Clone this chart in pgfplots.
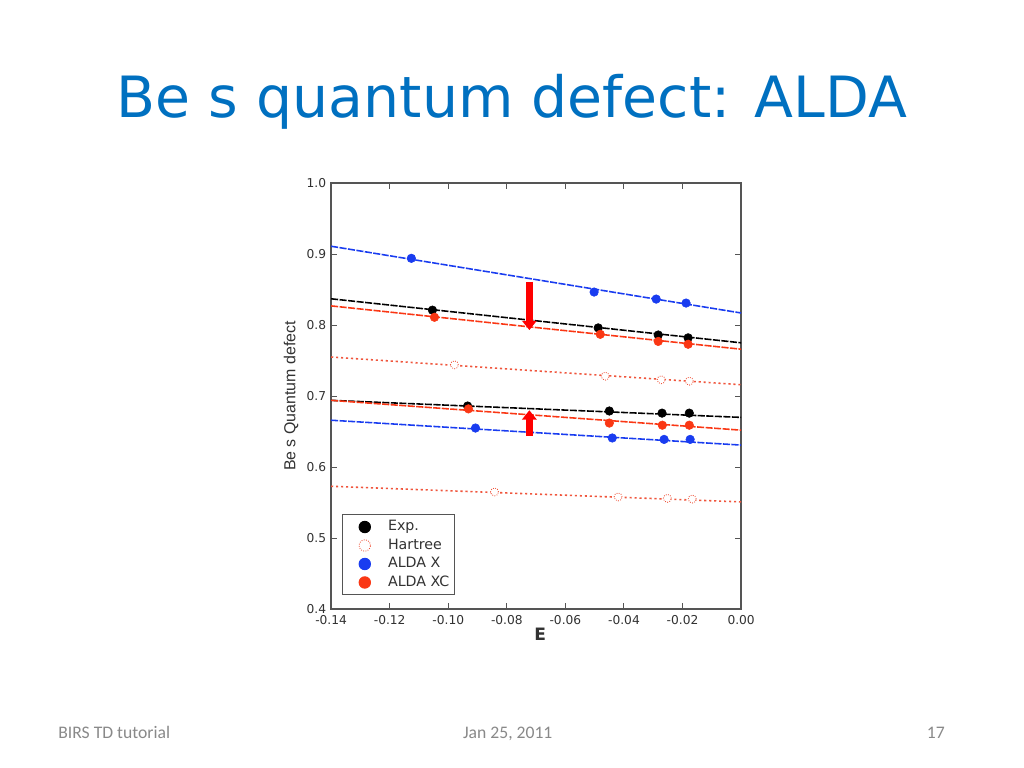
\documentclass[border=0pt]{standalone}
\usepackage{fontspec}
\setmainfont{DejaVu Sans}
\newfontfamily\carlito{Carlito}
\newfontfamily\helv{Liberation Sans}
\usepackage{pgfplots}
\pgfplotsset{compat=1.18}
\usetikzlibrary{arrows.meta}

\definecolor{titleblue}{RGB}{0,112,192}
\definecolor{footgray}{RGB}{137,137,137}
\definecolor{axisgray}{RGB}{85,85,85}
\definecolor{labelgray}{RGB}{50,50,50}
\definecolor{blueX}{RGB}{25,60,240}
\definecolor{redXC}{RGB}{250,55,20}
\definecolor{hartree}{RGB}{240,85,60}

\pgfplotsset{
  fitline/.style={forget plot, no marks, line width=1.1pt, dash pattern=on 5pt off 1pt},
  hfit/.style={forget plot, no marks, line width=1.1pt, hartree, dash pattern=on 1.5pt off 2pt},
}

\begin{document}
\begin{tikzpicture}
\fill[white] (0pt,0pt) rectangle (720pt,540pt);

% slide title and footer
\node[anchor=base, inner sep=0pt, text=titleblue, font=\fontsize{40}{48}\selectfont]
  at (360pt,457.7pt) {Be s quantum defect: ALDA};
\node[anchor=base west, inner sep=0pt, text=footgray, font=\carlito\fontsize{12.4}{14}\selectfont]
  at (40.8pt,21pt) {BIRS TD tutorial};
\node[anchor=base, inner sep=0pt, text=footgray, font=\carlito\fontsize{12.4}{14}\selectfont]
  at (357pt,21pt) {Jan 25, 2011};
\node[anchor=base east, inner sep=0pt, text=footgray, font=\carlito\fontsize{12.4}{14}\selectfont]
  at (664.5pt,21pt) {17};

\begin{axis}[
  at={(232.8pt,111.7pt)}, anchor=south west,
  scale only axis, width=288.3pt, height=299.6pt,
  xmin=-0.14, xmax=0, ymin=0.4, ymax=1.0,
  xtick={-0.14,-0.12,-0.10,-0.08,-0.06,-0.04,-0.02,0},
  ytick={0.4,0.5,0.6,0.7,0.8,0.9,1.0},
  tick align=inside, major tick length=4pt,
  tick style={draw=axisgray, line width=0.7pt},
  axis line style={draw=axisgray, line width=0.9pt},
  /pgf/number format/assume math mode=true,
  tick label style={font=\fontsize{8.6}{10}\selectfont, text=labelgray},
  xticklabel style={yshift=-1pt, /pgf/number format/.cd, fixed, fixed zerofill, precision=2},
  yticklabel style={/pgf/number format/.cd, fixed, fixed zerofill, precision=1},
  xlabel={E}, ylabel={Be s Quantum defect},
  xlabel style={at={(axis description cs:0.5097,-0.0587)}, anchor=center,
    font=\bfseries\fontsize{12}{14}\selectfont, text=labelgray},
  ylabel style={at={(axis description cs:-0.0975,0.5)}, anchor=center,
    font=\helv\fontsize{11.2}{13}\selectfont, text=labelgray},
  legend style={at={(0.026,0.033)}, anchor=south west, draw=axisgray, line width=0.7pt,
    font=\fontsize{10}{12}\selectfont, text=labelgray, row sep=0pt, inner sep=2pt,
    nodes={inner sep=1.5pt, text height=7.5pt, text depth=2.5pt}},
  legend cell align=left,
  legend image code/.code={\path (0pt,0pt) (28pt,0pt);
    \draw[#1, mark size=4pt] plot coordinates {(13.5pt,0pt)};},
]
% fitted lines
\addplot[fitline, blueX] coordinates {(-0.14,0.911) (0,0.817)};
\addplot[fitline, blueX] coordinates {(-0.14,0.666) (0,0.631)};
\addplot[fitline, black] coordinates {(-0.14,0.837) (0,0.775)};
\addplot[fitline, black] coordinates {(-0.14,0.694) (0,0.670)};
\addplot[fitline, redXC] coordinates {(-0.14,0.827) (0,0.766)};
\addplot[fitline, redXC] coordinates {(-0.14,0.694) (0,0.652)};
\addplot[hfit] coordinates {(-0.14,0.755) (0,0.716)};
\addplot[hfit] coordinates {(-0.14,0.573) (0,0.551)};

% data points
\addplot[only marks, mark=*, mark size=3pt, black] coordinates {
  (-0.1054,0.821) (-0.0488,0.796) (-0.0283,0.786) (-0.0181,0.782)
  (-0.0934,0.686) (-0.0450,0.679) (-0.0270,0.676) (-0.0177,0.676)};
\addplot[only marks, mark=*, mark size=2.8pt, hartree,
  mark options={fill=white, draw=hartree, line width=0.6pt, densely dotted}] coordinates {
  (-0.0979,0.744) (-0.0464,0.728) (-0.0273,0.723) (-0.0177,0.721)
  (-0.0842,0.565) (-0.0420,0.558) (-0.0252,0.556) (-0.0167,0.555)};
\addplot[only marks, mark=*, mark size=3pt, blueX] coordinates {
  (-0.1126,0.894) (-0.0502,0.8465) (-0.0290,0.8366) (-0.0188,0.831)
  (-0.0907,0.655) (-0.0440,0.641) (-0.0263,0.639) (-0.0174,0.639)};
\addplot[only marks, mark=*, mark size=3pt, redXC] coordinates {
  (-0.1047,0.811) (-0.0481,0.787) (-0.0283,0.777) (-0.0181,0.773)
  (-0.0931,0.682) (-0.0450,0.662) (-0.0269,0.659) (-0.0177,0.659)};
\legend{Exp., Hartree, ALDA X, ALDA XC}

% arrows
\draw[red, line width=4.8pt, -{Triangle[width=10pt,length=6.5pt]}]
  (axis cs:-0.0723,0.861) -- (axis cs:-0.0723,0.793);
\draw[red, line width=4.8pt, -{Triangle[width=10pt,length=6.5pt]}]
  (axis cs:-0.0723,0.644) -- (axis cs:-0.0723,0.680);
\end{axis}
\end{tikzpicture}
\end{document}
